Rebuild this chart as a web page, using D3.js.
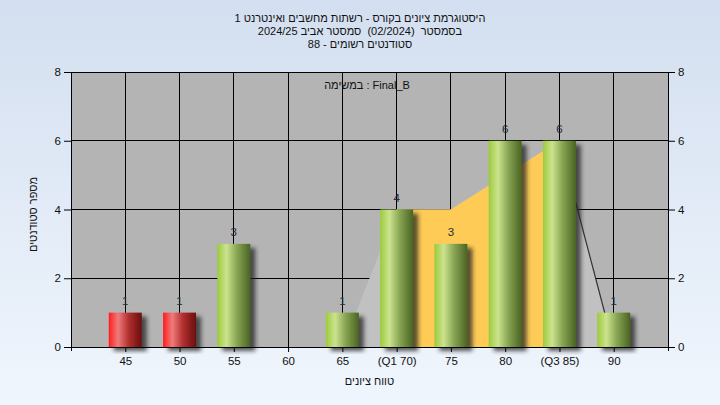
<!DOCTYPE html>
<html>
<head>
<meta charset="utf-8">
<script src="https://cdn.jsdelivr.net/npm/d3@7"></script>
<style>
html,body{margin:0;padding:0;background:#fff;}
svg{display:block;font-family:"Liberation Sans",Arial,sans-serif;}
.pre{white-space:pre;}
</style>
</head>
<body>
<svg id="chart" width="720" height="405"></svg>
<script>
// ---- data ----
const categories = [45, 50, 55, 60, 65, 70, 75, 80, 85, 90];
const counts     = [1, 1, 3, 0, 1, 4, 3, 6, 6, 1];
const tickLabels = ["45", "50", "55", "60", "65", "(Q1 70)", "75", "80", "(Q3 85)", "90"];
const passMark = 55;
const yTicks = [0, 2, 4, 6, 8];
const areaGrades = [65, 70, 75, 85, 90];
const areaValues = [0, 4, 4, 6, 0];
const iqrGrades = [70, 75, 85];
const iqrValues = [4, 4, 6];
const titleLines = [
  "היסטוגרמת ציונים בקורס - רשתות מחשבים ואינטרנט 1",
  "בסמסטר  (02/2024)  סמסטר אביב 2024/25",
  "סטודנטים רשומים - 88"
];
const yTitle = "מספר סטודנטים";
const xTitle = "טווח ציונים";
const note = "במשימה : Final_B";

// ---- layout ----
const W = 720, H = 405;
const L = 71, R = 668, T = 72, B = 347;
const FS = 11.5;
const svg = d3.select("#chart");
const defs = svg.append("defs");

const bg = defs.append("linearGradient").attr("id","bg").attr("x1",0).attr("y1",0).attr("x2",0).attr("y2",1);
bg.append("stop").attr("offset","0%").attr("stop-color","#d3dff0");
bg.append("stop").attr("offset","100%").attr("stop-color","#f0f6fd");

function barGrad(id, c0, c1, c2, c3){
  const g = defs.append("linearGradient").attr("id",id).attr("x1",0).attr("y1",0).attr("x2",1).attr("y2",0);
  g.append("stop").attr("offset","0%").attr("stop-color",c0);
  g.append("stop").attr("offset","28%").attr("stop-color",c1);
  g.append("stop").attr("offset","60%").attr("stop-color",c2);
  g.append("stop").attr("offset","100%").attr("stop-color",c3);
}
barGrad("gRed", "#ff1c1c", "#ef7b7b", "#b23030", "#6a0e0e");
barGrad("gGreen", "#9ccb3c", "#cce38e", "#86a452", "#4a6322");

const f = defs.append("filter").attr("id","shadow").attr("x","-20%").attr("y","-20%").attr("width","160%").attr("height","140%");
f.append("feDropShadow").attr("dx",5).attr("dy",4).attr("stdDeviation",2).attr("flood-color","#222").attr("flood-opacity",0.75);

svg.append("rect").attr("width",W).attr("height",H).attr("fill","url(#bg)");

const x = d3.scaleLinear().domain([40, 95]).range([L, R]);
const y = d3.scaleLinear().domain([0, 8]).range([B, T]);

// plot background
svg.append("rect").attr("x",L).attr("y",T).attr("width",R-L).attr("height",B-T).attr("fill","#b4b4b4");

// gridlines
svg.append("g").selectAll("line.h").data(yTicks).join("line")
  .attr("x1",L).attr("x2",R).attr("y1",d=>y(d)).attr("y2",d=>y(d))
  .attr("stroke","#000").attr("stroke-width",1).attr("shape-rendering","crispEdges");
svg.append("g").selectAll("line.v").data(categories).join("line")
  .attr("x1",d=>x(d)).attr("x2",d=>x(d)).attr("y1",T).attr("y2",B)
  .attr("stroke","#000").attr("stroke-width",1).attr("shape-rendering","crispEdges");

// area polygons
const areaPts = areaGrades.map((g,i)=>[x(g), y(areaValues[i])]);
svg.append("path").attr("d", d3.line()(areaPts) + "Z").attr("fill","#c1c1c1");
const iqrPts = [[x(iqrGrades[0]), y(0)]].concat(iqrGrades.map((g,i)=>[x(g), y(iqrValues[i])]))
  .concat([[x(iqrGrades[iqrGrades.length-1]), y(0)]]);
svg.append("path").attr("d", d3.line()(iqrPts) + "Z").attr("fill","#fecb57");
svg.append("path").attr("d", d3.line()(areaPts.slice(-2))).attr("stroke","#333").attr("stroke-width",1.2).attr("fill","none");

// bars
const bw = 33;
const bars = categories.map((c,i)=>({c, v:counts[i]})).filter(d=>d.v>0);
svg.append("g").selectAll("rect").data(bars).join("rect")
  .attr("x", d=>x(d.c)-bw/2).attr("y", d=>y(d.v)).attr("width", bw).attr("height", d=>y(0)-y(d.v))
  .attr("fill", d=> d.c < passMark ? "url(#gRed)" : "url(#gGreen)")
  .attr("filter","url(#shadow)");

// value labels
svg.append("g").selectAll("text").data(bars).join("text")
  .attr("x", d=>x(d.c)).attr("y", d=>y(d.v)-8).attr("text-anchor","middle")
  .attr("font-size",FS).attr("fill","#1e2a3a").text(d=>d.v);

// axes
const axL = d3.axisLeft(y).tickValues(yTicks).tickSize(7).tickPadding(3).tickFormat(d3.format("d"));
const axR = d3.axisRight(y).tickValues(yTicks).tickSize(7).tickPadding(3).tickFormat(d3.format("d"));
const axB = d3.axisBottom(x).tickValues(categories).tickSize(5).tickPadding(5).tickFormat((d,i)=>tickLabels[i]);
function style(g){
  g.selectAll("path.domain").remove();
  g.selectAll("line").attr("stroke","#000");
  g.selectAll("text").attr("font-size",FS).attr("fill","#111").attr("font-family","Liberation Sans, Arial, sans-serif");
}
svg.append("g").attr("transform",`translate(${L},0)`).call(axL).call(style);
svg.append("g").attr("transform",`translate(${R},0)`).call(axR).call(style);
svg.append("g").attr("transform",`translate(0,${B})`).call(axB).call(style);
svg.append("line").attr("x1",L).attr("x2",L).attr("y1",T).attr("y2",B+4).attr("stroke","#000").attr("shape-rendering","crispEdges");
svg.append("line").attr("x1",R).attr("x2",R).attr("y1",T).attr("y2",B+4).attr("stroke","#000").attr("shape-rendering","crispEdges");
svg.append("line").attr("x1",L).attr("x2",R).attr("y1",B).attr("y2",B).attr("stroke","#000").attr("shape-rendering","crispEdges");

// titles
svg.append("g").selectAll("text").data(titleLines).join("text")
  .attr("class","pre")
  .attr("x", 360).attr("y", (d,i)=>22+i*13).attr("text-anchor","middle")
  .attr("direction","rtl").attr("font-size",11).attr("fill","#111").text(d=>d);

svg.append("text").attr("transform",`translate(37,${(T+B)/2+5}) rotate(-90)`)
  .attr("text-anchor","middle").attr("direction","rtl").attr("font-size",11).attr("fill","#111").text(yTitle);

svg.append("text").attr("x", (L+R)/2).attr("y", 385).attr("text-anchor","middle")
  .attr("direction","rtl").attr("font-size",11).attr("fill","#111").text(xTitle);

svg.append("text").attr("x", 367).attr("y", 89).attr("text-anchor","middle")
  .attr("font-size",11).attr("fill","#111").text(note);
</script>
</body>
</html>
